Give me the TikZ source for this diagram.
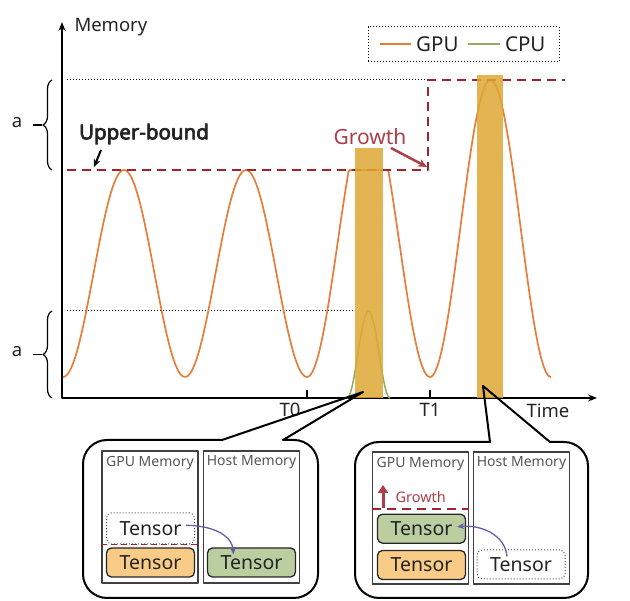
\documentclass[tikz,border=0pt]{standalone}
\usepackage{fontspec}
\setmainfont{Noto Sans}[AutoFakeBold=3.5]
\usepackage{xcolor}
\usetikzlibrary{arrows.meta, positioning, calc, decorations.pathreplacing}
\definecolor{cGpu}{RGB}{230,126,58}
\definecolor{cCpu}{RGB}{146,172,98}
\definecolor{cBar}{RGB}{222,168,52}
\definecolor{cBound}{RGB}{160,36,44}
\definecolor{cGrow}{RGB}{172,62,72}
\definecolor{cMove}{RGB}{104,92,164}
\definecolor{cOrangeT}{RGB}{248,204,134}
\definecolor{cGreenT}{RGB}{186,206,160}
\definecolor{cTitle}{RGB}{85,85,85}
\definecolor{cInk}{RGB}{35,35,35}
\newcommand{\fAxis}{\fontsize{18.5}{21}\selectfont}
\newcommand{\fLegend}{\fontsize{20.5}{23}\selectfont}
\newcommand{\fUpper}{\fontsize{20.5}{23}\selectfont\bfseries}
\newcommand{\fGrow}{\fontsize{21}{24}\selectfont}
\newcommand{\fTensor}{\fontsize{19.5}{22}\selectfont}
\newcommand{\fTitle}{\fontsize{14}{16}\selectfont}
\newcommand{\fGrowSmall}{\fontsize{14.5}{16}\selectfont}
\tikzset{
	axis/.style     ={line width=2.2pt, {Stealth[length=9pt, width=7pt]}-{Stealth[length=9pt, width=7pt]}},
	axisText/.style ={font=\fAxis, text=cInk},
	tick/.style     ={line width=1.5pt},
	gpuline/.style  ={cGpu, line width=1.7pt},
	cpuline/.style  ={cCpu, line width=1.5pt},
	bound/.style    ={cBound, line width=2.2pt, dash pattern=on 9pt off 6pt},
	guide/.style    ={line width=1pt, dotted},
	hotbar/.style   ={fill=cBar, fill opacity=0.85},
	memBrace/.style ={decorate, decoration={brace, amplitude=9pt}, line width=1.2pt},
	ptr/.style      ={-{Stealth[length=8pt, width=7pt]}, line width=2pt},
	growPtr/.style  ={-{Stealth[length=9pt, width=8pt]}, cGrow, line width=2.5pt},
	legendbox/.style={draw, dotted, line width=1pt, minimum width=191pt, minimum height=35pt, inner sep=0pt},
	% callout bubbles
	bubble/.style   ={line width=2pt, rounded corners=24pt},
	memPanel/.style ={draw=black!75, line width=1.1pt, minimum width=96pt, minimum height=132pt, inner sep=0pt},
	panelTitle/.style={font=\fTitle, text=cTitle},
	tensorBox/.style={draw=black!85, line width=1.3pt, rounded corners=5pt, minimum width=88pt, minimum height=29pt, inner sep=0pt, font=\fTensor, text=cInk},
	ghostBox/.style ={tensorBox, draw=black!70, line width=1pt, dotted},
	moveArrow/.style={-{Stealth[length=7pt, width=6pt]}, cMove, line width=1.3pt},
	growUp/.style   ={-{Triangle[length=8pt, width=10pt]}, cGrow, line width=3pt},
}
\begin{document}
\begin{tikzpicture}[x=1pt, y=1pt, line join=round]
	\useasboundingbox (0,0) rectangle (630,601);
	% axes
	\coordinate (O) at (62,203);
	\draw[axis] (62,579) -- (O) -- (597,203);
	\node[axisText, anchor=west] (memLabel) at (71,574) {Memory};
	\node[axisText] (timeLabel) at (548,190) {Time};
	\draw[tick] (307,203) -- (307,211);
	\draw[tick] (430,203) -- (430,211);
	\node[axisText] (tZero) at (290,191) {T0};
	\node[axisText] (tOne) at (430,191) {T1};
	% levels
	\draw[guide] (67,521) -- (428,521);
	\draw[guide] (67,290) -- (355,290);
	% curves
	\draw[gpuline] plot[domain=63:307, samples=140] (\x, {224+103.5*(1-cos((\x-63)/122*360))})
		-- plot[domain=307:430, samples=90] (\x, {min(431, 224+135*(1-cos((\x-307)/123*360)))})
		-- plot[domain=430:551, samples=90] (\x, {224+148.5*(1-cos((\x-430)/121*360))});
	\draw[cpuline] plot[domain=347:390, samples=50] (\x, {203+43.5*(1-cos((\x-347)/43*360))});
	\draw[bound] (67,431) -- (428,431) -- (428,521) -- (565,521);
	% swap windows
	\fill[hotbar] (355,203) rectangle (383,453);
	\fill[hotbar] (477,203) rectangle (503,526);
	% braces
	\draw[memBrace] (52,431) -- (52,521);
	\draw[memBrace] (52,203) -- (52,290);
	\coordinate (tipTop) at (42,476);
	\coordinate (tipBot) at (42,246.5);
	\node[axisText] (aTop) at (17,478) {a};
	\node[axisText] (aBot) at (17,249) {a};
	\draw[line width=1.2pt] ([xshift=-9pt]tipTop) -- (tipTop);
	\draw[line width=1.2pt] ([xshift=-9pt]tipBot) -- (tipBot);
	% labels
	\node[font=\fUpper, text=cInk] (ubLabel) at (144,467) {Upper-bound};
	\coordinate (ubFrom) at (101,451);
	\coordinate (ubTo) at (94,434);
	\draw[ptr] (ubFrom) -- (ubTo);
	\node[font=\fGrow, text=cGrow] (growLabel) at (370,464) {Growth};
	\coordinate (growFrom) at (391,453);
	\coordinate (growTo) at (427,434);
	\draw[growPtr] (growFrom) -- (growTo);
	% legend
	\node[legendbox] (legend) at (463.5,556.5) {};
	\draw[gpuline] (380,557) -- (411,557) node[right=1pt, font=\fLegend, text=cInk] (lgGpu) {GPU};
	\draw[cpuline] (468,557) -- (500,557) node[right=1pt, font=\fLegend, text=cInk] (lgCpu) {CPU};
	% callout at T0
	\coordinate (tipA) at (363,209);
	\draw[bubble] (318,80) -- (318,161) [sharp corners] -- (283,161) -- (tipA) -- (222,161) [rounded corners=24pt] -- (83,161) -- (83,3) -- (318,3) -- cycle;
	\node[memPanel] (gpuL) at (150,84) {};
	\node[memPanel] (hostL) at (251.5,84) {};
	\node[panelTitle, below=2pt of gpuL.north] (gpuLTitle) {GPU Memory};
	\node[panelTitle, below=2pt of hostL.north] (hostLTitle) {Host Memory};
	\node[tensorBox, fill=cOrangeT] (tensL) at (150.5,38.5) {Tensor};
	\node[ghostBox, minimum height=31pt, above=3pt of tensL] (ghostL) {Tensor};
	\node[tensorBox, fill=cGreenT] (hostTensL) at (251.5,38.5) {Tensor};
	\draw[bound, line width=1.6pt, dash pattern=on 6pt off 4pt] (gpuL.west |- ghostL.south) -- (gpuL.east |- ghostL.south);
	\draw[moveArrow] ([xshift=-9pt, yshift=3pt]ghostL.east) to[out=0, in=95] ([xshift=-18pt, yshift=-7pt]hostTensL.north);
	% callout at T1
	\coordinate (tipB) at (483,215);
	\draw[bubble] (588,80) -- (588,159) [sharp corners] -- (550,159) -- (tipB) -- (490,159) [rounded corners=24pt] -- (355,159) -- (355,3) -- (588,3) -- cycle;
	\node[memPanel] (gpuR) at (420.5,83) {};
	\node[memPanel] (hostR) at (521.5,83) {};
	\node[panelTitle, below=2pt of gpuR.north] (gpuRTitle) {GPU Memory};
	\node[panelTitle, below=2pt of hostR.north] (hostRTitle) {Host Memory};
	\node[tensorBox, fill=cOrangeT] (tensR) at (421.5,36) {Tensor};
	\node[tensorBox, fill=cGreenT, above=6pt of tensR] (greenR) {Tensor};
	\node[ghostBox] (ghostR) at (521,36.5) {Tensor};
	\draw[bound, line width=2pt] ($(gpuR.west |- greenR.north)+(0,5)$) -- ($(gpuR.east |- greenR.north)+(0,5)$);
	\node[font=\fGrowSmall, text=cGrow, anchor=west] (growR) at (392,104) {Growth};
	\draw[growUp] ([xshift=-9pt, yshift=-11pt]growR.west) -- ([xshift=-9pt, yshift=12pt]growR.west);
	\draw[moveArrow] ([xshift=-14pt, yshift=8pt]ghostR.center) to[out=95, in=5] ([xshift=-9pt, yshift=2pt]greenR.east);
\end{tikzpicture}
\end{document}
